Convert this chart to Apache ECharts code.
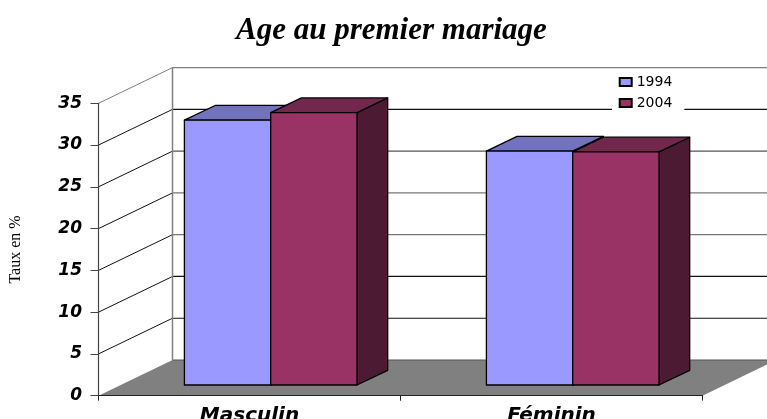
<!DOCTYPE html>
<html>
<head>
<meta charset="utf-8">
<title>Age au premier mariage</title>
<script src="https://cdn.jsdelivr.net/npm/echarts@6/dist/echarts.min.js"></script>
<style>
html, body { margin: 0; padding: 0; background: #fff; }
#chart { width: 767px; height: 419px; }
</style>
</head>
<body>
<div id="chart"></div>
<script>
const categories = ['Masculin', 'Féminin'];
const years = ['1994', '2004'];
const values1994 = [31.7, 28.0];
const values2004 = [32.6, 27.9];
const ticks = [0, 5, 10, 15, 20, 25, 30, 35];
// couleur de chaque ligne de grille, comme sur l'image
const gridColors = ['#555', '#111', '#111', '#777', '#777', '#555', '#111', '#808080'];

// perspective : profondeur du fond et des barres, en pixels
const WALL_DX = 74, WALL_DY = 35.7;
const BAR_DX = 30.7, BAR_DY = 14.7;
const FRONT_DX = 21.2, FRONT_DY = 10.7;
const BAR_W = 86.3;

const chart = echarts.init(document.getElementById('chart'));

function poly(points, fill, stroke) {
    return {
        type: 'polygon',
        shape: { points },
        style: { fill, stroke: stroke || null, lineWidth: 1.3, lineJoin: 'round' }
    };
}

function renderWall(params, api) {
    const v = api.value(0);
    const sys = params.coordSys;
    const y = api.coord([0, v])[1];
    const x0 = sys.x, x1 = sys.x + sys.width;
    const color = gridColors[ticks.indexOf(v)];
    const children = [];
    if (v === 0) {
        children.push(poly([[x0, y], [x1, y], [x1 + WALL_DX, y - WALL_DY], [x0 + WALL_DX, y - WALL_DY]], '#808080'));
    } else {
        // diagonale sur la paroi de gauche
        children.push({
            type: 'line',
            shape: { x1: x0, y1: y, x2: x0 + WALL_DX, y2: y - WALL_DY },
            style: { stroke: v === 35 ? '#808080' : '#111', lineWidth: 1 }
        });
    }
    children.push({
        type: 'line',
        shape: { x1: x0 + WALL_DX, y1: y - WALL_DY, x2: x1 + WALL_DX, y2: y - WALL_DY },
        style: { stroke: color, lineWidth: 1.2 }
    });
    if (v === 35) {
        children.push({
            type: 'line',
            shape: { x1: x0 + WALL_DX, y1: y - WALL_DY, x2: x0 + WALL_DX, y2: api.coord([0, 0])[1] - WALL_DY },
            style: { stroke: '#808080', lineWidth: 1.5 }
        });
    }
    return { type: 'group', children };
}

// une barre 3D : face avant, dessus, côté
function barRenderer(serieIndex, front, top, side) {
    return function (params, api) {
        const p = api.coord([api.value(0), api.value(1)]);
        const base = api.coord([api.value(0), 0]);
        const x0 = p[0] + FRONT_DX + (serieIndex - 1) * BAR_W;
        const x1 = x0 + BAR_W;
        const yT = p[1] - FRONT_DY;
        const yB = base[1] - FRONT_DY;
        return {
            type: 'group',
            children: [
                poly([[x1, yB], [x1 + BAR_DX, yB - BAR_DY], [x1 + BAR_DX, yT - BAR_DY], [x1, yT]], side, '#000'),
                poly([[x0, yT], [x0 + BAR_DX, yT - BAR_DY], [x1 + BAR_DX, yT - BAR_DY], [x1, yT]], top, '#000'),
                poly([[x0, yB], [x1, yB], [x1, yT], [x0, yT]], front, '#000')
            ]
        };
    };
}

chart.setOption({
    animation: false,
    backgroundColor: '#fff',
    title: {
        text: 'Age au premier mariage',
        left: 231,
        top: 10,
        textStyle: { fontFamily: 'Liberation Serif', fontStyle: 'italic', fontWeight: 'bold', fontSize: 31, color: '#000' }
    },
    legend: {
        data: years,
        left: 612,
        top: 73,
        orient: 'vertical',
        icon: 'rect',
        itemWidth: 12,
        itemHeight: 8,
        itemGap: 7,
        padding: [2, 12, 2, 6.7],
        backgroundColor: '#fff',
        textStyle: { fontFamily: 'DejaVu Sans', fontSize: 14, color: '#000' }
    },
    grid: { left: 98.5, right: 64.5, top: 103.3, bottom: 23.3, outerBoundsMode: 'none' },
    xAxis: {
        type: 'category',
        data: categories,
        z: 3,
        axisLine: { lineStyle: { color: '#222', width: 1.2 } },
        axisTick: { show: true, length: 5, lineStyle: { color: '#222', width: 1 } },
        axisLabel: { margin: 10, fontFamily: 'DejaVu Sans', fontStyle: 'italic', fontWeight: 'bold', fontSize: 20, color: '#000' }
    },
    yAxis: {
        type: 'value',
        min: 0,
        max: 35,
        interval: 5,
        z: 3,
        name: 'Taux en %',
        nameLocation: 'middle',
        nameGap: 75,
        nameTextStyle: { fontFamily: 'Liberation Serif', fontSize: 16, color: '#000' },
        splitLine: { show: false },
        axisLine: { show: true, lineStyle: { color: '#444', width: 1.2 } },
        axisTick: { show: true, length: 8, lineStyle: { color: '#444', width: 1 } },
        axisLabel: { margin: 16.5, padding: [4, 0, 0, 0], fontFamily: 'DejaVu Sans', fontStyle: 'italic', fontWeight: 'bold', fontSize: 17, color: '#000' }
    },
    series: [
        {
            type: 'custom',
            name: 'parois',
            z: 1,
            silent: true,
            clip: false,
            renderItem: renderWall,
            encode: { y: 0 },
            data: ticks.map(t => [t])
        },
        {
            type: 'custom',
            name: years[0],
            z: 2,
            itemStyle: { color: '#9999FF', borderColor: '#000', borderWidth: 1 },
            renderItem: barRenderer(0, '#9999FF', '#7272BD', '#4C4C80'),
            encode: { x: 0, y: 1 },
            data: values1994.map((v, i) => [i, v])
        },
        {
            type: 'custom',
            name: years[1],
            z: 2,
            itemStyle: { color: '#993366', borderColor: '#000', borderWidth: 1 },
            renderItem: barRenderer(1, '#993366', '#72274C', '#4C1A33'),
            encode: { x: 0, y: 1 },
            data: values2004.map((v, i) => [i, v])
        }
    ]
});
</script>
</body>
</html>
